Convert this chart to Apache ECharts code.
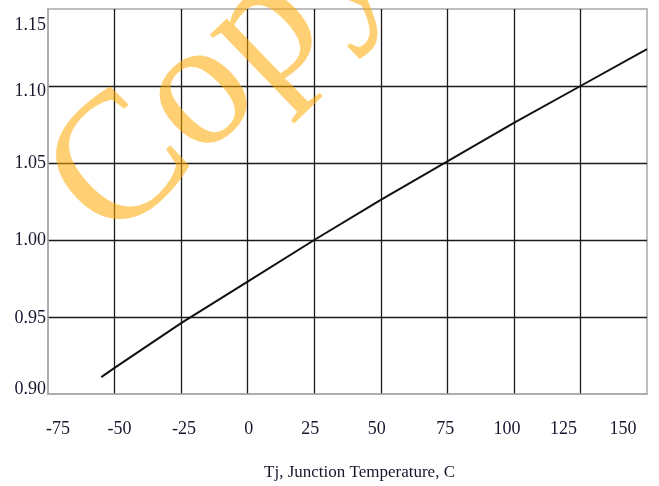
<!DOCTYPE html>
<html>
<head>
<meta charset="utf-8">
<script src="https://cdn.jsdelivr.net/npm/echarts@6/dist/echarts.min.js"></script>
<style>
  html, body { margin: 0; padding: 0; background: #fff; }
  #chart { width: 659px; height: 486px; }
</style>
</head>
<body>
<div id="chart"></div>
<script>
// Tj vs normalised value
const tempC = [-55, -50, -25, 0, 25, 50, 75, 100, 125, 150];
const ratio = [0.911, 0.917, 0.946, 0.973, 1.000, 1.026, 1.051, 1.076, 1.100, 1.124];

const xTicks = [-75, -50, -25, 0, 25, 50, 75, 100, 125, 150];
const yTicks = [0.90, 0.95, 1.00, 1.05, 1.10, 1.15];

// the scanned labels don't sit exactly on their gridlines
const xLabelNudge = [10, 5, 3, 1, -4, -4, -2, -7, -17, -24];
const yLabelNudge = [-5, 1, 0, 0, 5, 16];

const textColor = '#16162c';
const serif = '"Liberation Serif", "DejaVu Serif", serif';

const xRich = {};
xLabelNudge.forEach((d, i) => {
    xRich['n' + i] = {
        fontFamily: serif, fontSize: 18, color: textColor,
        padding: d >= 0 ? [0, 0, 0, 2 * d] : [0, -2 * d, 0, 0]
    };
});
const yRich = {};
yLabelNudge.forEach((d, i) => {
    yRich['n' + i] = {
        fontFamily: serif, fontSize: 18, color: textColor,
        padding: d >= 0 ? [2 * d, 0, 0, 0] : [0, 0, -2 * d, 0]
    };
});

const chart = echarts.init(document.getElementById('chart'), null, { renderer: 'canvas' });

const option = {
    backgroundColor: '#fff',
    animation: false,
    grid: {
        left: 48, right: 12, top: 9, bottom: 90,
        show: true, borderColor: '#a8a8a8', borderWidth: 1.5, backgroundColor: 'transparent'
    },
    xAxis: {
        type: 'value',
        min: -75, max: 150, interval: 25,
        name: 'Tj, Junction Temperature, C',
        nameLocation: 'middle',
        nameGap: 70,
        nameTextStyle: { fontFamily: serif, fontSize: 17, color: textColor, padding: [0, 0, 0, 24] },
        axisLine: { show: true, onZero: false, lineStyle: { color: '#a8a8a8', width: 1.5 } },
        axisTick: { show: false },
        axisLabel: {
            margin: 26,
            formatter: (v) => {
                const i = xTicks.indexOf(v);
                return '{n' + i + '|' + v + '}';
            },
            rich: xRich
        },
        splitLine: { show: true, showMinLine: false, showMaxLine: false, lineStyle: { color: '#1a1a1a', width: 1.3 } }
    },
    yAxis: {
        type: 'value',
        min: 0.90, max: 1.15, interval: 0.05,
        axisLine: { show: true, onZero: false, lineStyle: { color: '#a8a8a8', width: 1.5 } },
        axisTick: { show: false },
        axisLabel: {
            margin: 2,
            formatter: (v) => {
                const i = yTicks.findIndex(t => Math.abs(t - v) < 1e-6);
                return '{n' + i + '|' + v.toFixed(2) + '}';
            },
            rich: yRich
        },
        splitLine: { show: true, showMinLine: false, showMaxLine: false, lineStyle: { color: '#1a1a1a', width: 1.3 } }
    },
    graphic: [{
        type: 'text',
        x: 79, y: 211,
        rotation: 44 * Math.PI / 180,
        z: 100,
        silent: true,
        style: {
            text: 'Copy',
            font: '182px "Liberation Serif"',
            fill: 'rgba(255, 170, 0, 0.55)',
            verticalAlign: 'middle',
            align: 'left'
        }
    }],
    series: [{
        type: 'line',
        data: tempC.map((t, i) => [t, ratio[i]]),
        showSymbol: false,
        smooth: false,
        lineStyle: { color: '#111', width: 2 }
    }]
};

chart.setOption(option);
</script>
</body>
</html>
